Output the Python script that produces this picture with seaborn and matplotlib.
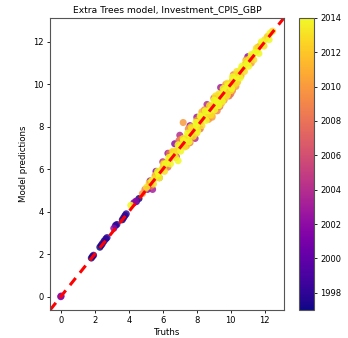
import numpy as np
import pandas as pd
import matplotlib
matplotlib.use("Agg")
import matplotlib.pyplot as plt
import seaborn as sns

# Observed values, model predictions and the year of each observation
truths = [
    # 1997-2002
    1.80, 1.87, 1.93, 2.30, 2.38, 2.45, 2.55, 2.65, 2.72, 3.22, 3.30, 3.62, 3.70, 3.78, 3.85, 4.45, 4.60,
    0.00, 0.02, 3.12, 4.30, 4.42,
    # 2002-2004
    5.10, 5.25, 5.60, 6.00, 6.30, 6.70, 7.00, 7.60, 8.00, 8.60, 5.40, 7.90, 11.00, 9.40,
    # 2006-2011
    4.80, 4.95, 5.30, 5.55, 5.80, 6.05, 6.30, 6.55, 6.80, 7.05, 7.20, 7.35, 7.50, 7.75, 8.00, 8.20, 8.45,
    8.70, 9.00, 9.20, 9.45, 9.70, 9.90, 10.15, 10.30, 10.60, 10.90, 11.20, 11.60, 9.60, 10.00,
    6.40, 7.60, 8.90, 9.35, 10.10, 6.95, 8.30,
    # 2012-2014
    4.12, 5.05, 5.20, 5.35, 5.50, 5.62, 5.75, 5.90, 6.02, 6.15, 6.28, 6.40, 6.52, 6.65, 6.80, 6.90, 6.95,
    7.10, 7.22, 7.35, 7.48, 7.60, 7.72, 7.85, 7.98, 8.10, 8.22, 8.35, 8.48, 8.60, 8.72, 8.85, 8.98, 9.10,
    9.22, 9.35, 9.48, 9.60, 9.72, 9.85, 9.98, 10.10, 10.22, 10.35, 10.48, 10.60, 10.72, 10.85, 10.98,
    11.10, 11.25, 11.40, 11.55, 11.70, 11.85, 12.00, 12.15, 12.30, 12.45,
    7.40, 8.00, 8.90, 9.30, 9.60, 10.00, 10.40, 8.20, 9.10, 7.65, 9.80, 10.20,
    5.45, 5.80, 6.10, 6.45, 6.75, 7.05, 7.30, 7.55, 7.80, 8.05, 8.30, 8.55, 8.80, 9.05, 9.25, 9.50, 9.75,
    10.05, 10.30, 10.55, 10.80, 11.05, 11.35, 11.65, 11.95, 12.25,
    5.70, 6.05, 6.35, 6.60, 6.90, 7.20, 7.45, 7.70, 7.95, 8.25, 8.50, 8.75, 9.00, 9.30, 9.55, 9.80,
    10.10, 10.35, 10.65, 10.90, 11.20, 11.50, 11.80,
]
predictions = [
    1.82, 1.90, 1.95, 2.33, 2.42, 2.50, 2.62, 2.72, 2.78, 3.35, 3.40, 3.62, 3.72, 3.82, 3.90, 4.48, 4.62,
    0.00, 0.03, 3.22, 4.42, 4.50,
    5.05, 5.45, 5.90, 6.35, 6.75, 7.20, 7.60, 8.05, 8.45, 9.05, 5.05, 7.45, 11.30, 9.85,
    4.85, 5.05, 5.20, 5.70, 5.60, 6.30, 6.10, 6.80, 6.60, 7.40, 8.20, 7.10, 7.90, 7.50, 8.30, 7.90, 8.80,
    8.35, 9.35, 8.75, 9.10, 10.00, 9.45, 10.45, 9.90, 10.40, 11.15, 11.00, 11.75, 9.25, 9.55,
    6.75, 7.25, 8.45, 8.95, 9.70, 7.35, 8.70,
    4.30, 5.15, 5.35, 5.45, 5.55, 5.75, 5.80, 5.95, 6.10, 6.25, 6.35, 6.45, 6.60, 6.70, 6.85, 6.40, 7.05,
    7.15, 7.35, 7.40, 7.55, 7.62, 7.85, 7.90, 8.05, 8.20, 8.25, 8.45, 8.50, 8.70, 8.75, 8.95, 9.00, 9.20,
    9.25, 9.45, 9.50, 9.70, 9.75, 9.95, 10.00, 10.20, 10.25, 10.45, 10.50, 10.70, 10.75, 10.95, 11.00,
    11.20, 11.30, 11.50, 11.60, 11.80, 11.90, 12.10, 12.25, 12.40, 12.50,
    7.10, 7.70, 8.55, 9.00, 9.30, 9.70, 10.10, 8.50, 9.45, 8.00, 9.50, 9.95,
    5.30, 5.60, 5.90, 6.25, 6.55, 6.85, 7.05, 7.30, 7.55, 7.80, 8.05, 8.30, 8.55, 8.80, 9.00, 9.20, 9.45,
    9.80, 10.05, 10.30, 10.60, 10.85, 11.15, 11.45, 11.80, 12.10,
    5.90, 6.25, 6.55, 6.85, 7.15, 7.45, 7.70, 7.95, 8.20, 8.50, 8.75, 9.00, 9.25, 9.55, 9.80, 10.05,
    10.35, 10.60, 10.85, 11.10, 11.40, 11.70, 12.00,
]
years = [
    1997, 1997, 1998, 1997, 1997, 1998, 1997, 1998, 1998, 1997, 1998, 1997, 1998, 1997, 1998, 1998, 1997,
    2001, 2002, 2002, 2001, 2002,
    2002, 2003, 2002, 2004, 2003, 2002, 2004, 2002, 2003, 2004, 2003, 2004, 2002, 2003,
    2010, 2009, 2008, 2010, 2007, 2009, 2008, 2010, 2006, 2009, 2010, 2008, 2009, 2007, 2010, 2008, 2009,
    2010, 2008, 2009, 2011, 2010, 2008, 2009, 2010, 2011, 2009, 2010, 2011, 2009, 2008,
    2008, 2009, 2010, 2008, 2009, 2007, 2011,
    2014, 2013, 2012, 2014, 2013, 2012, 2014, 2013, 2012, 2014, 2013, 2012, 2014, 2013, 2012, 2014, 2013,
    2012, 2014, 2013, 2012, 2014, 2013, 2012, 2014, 2013, 2012, 2014, 2013, 2012, 2014, 2013, 2012, 2014,
    2013, 2012, 2014, 2013, 2012, 2014, 2013, 2012, 2014, 2013, 2012, 2014, 2013, 2012, 2014,
    2013, 2012, 2014, 2013, 2012, 2014, 2013, 2012, 2014, 2013,
    2012, 2013, 2012, 2014, 2012, 2013, 2012, 2014, 2013, 2012, 2013, 2012,
    2013, 2014, 2013, 2014, 2013, 2014, 2013, 2014, 2013, 2014, 2013, 2014, 2013, 2014, 2013, 2014, 2013,
    2014, 2013, 2014, 2013, 2014, 2013, 2014, 2013, 2014,
    2014, 2013, 2014, 2013, 2014, 2013, 2014, 2013, 2014, 2013, 2014, 2013, 2014, 2013, 2014, 2013,
    2014, 2013, 2014, 2013, 2014, 2013, 2014,
]
year_ticks = [1998, 2000, 2002, 2004, 2006, 2008, 2010, 2012, 2014]

df = pd.DataFrame({"Truths": truths, "Predictions": predictions, "Year": years})
df = df.sort_values("Year", kind="stable")

fig = plt.figure(figsize=(3.48, 3.38), dpi=100)
ax = fig.add_axes([0.144, 0.083, 0.672, 0.864])
cax = fig.add_axes([0.859, 0.083, 0.043, 0.864])

norm = plt.Normalize(1997, 2014)
sns.scatterplot(data=df, x="Truths", y="Predictions", hue="Year", palette="plasma",
                hue_norm=norm, legend=False, s=26, linewidth=0, alpha=0.85, ax=ax)

# identity line spanning the joint range of both axes
x0, x1 = ax.get_xlim()
y0, y1 = ax.get_ylim()
lims = [min(x0, y0), max(x1, y1)]
ax.plot(lims, lims, color="red", linestyle="--", linewidth=2.2, dashes=(3, 2.2))
ax.set_xlim(lims)
ax.set_ylim(lims)

ax.set_xticks([0, 2, 4, 6, 8, 10, 12])
ax.set_yticks([0, 2, 4, 6, 8, 10, 12])
ax.set_xlabel("Truths", fontsize=6.2, labelpad=2)
ax.set_ylabel("Model predictions", fontsize=6.2, labelpad=4)
ax.set_title("Extra Trees model, Investment_CPIS_GBP", fontsize=6.6, pad=4)
ax.tick_params(labelsize=6, length=2.5, width=0.6, pad=2)
for sp in ax.spines.values():
    sp.set_linewidth(0.8)
    sp.set_color("#555555")

sm = plt.cm.ScalarMappable(cmap="plasma", norm=norm)
cb = fig.colorbar(sm, cax=cax, ticks=year_ticks)
cb.ax.tick_params(labelsize=6, length=2.5, width=0.6, pad=2)
cb.outline.set_linewidth(0.8)
cb.outline.set_edgecolor("#555555")

fig.savefig("out.png", dpi=100)
